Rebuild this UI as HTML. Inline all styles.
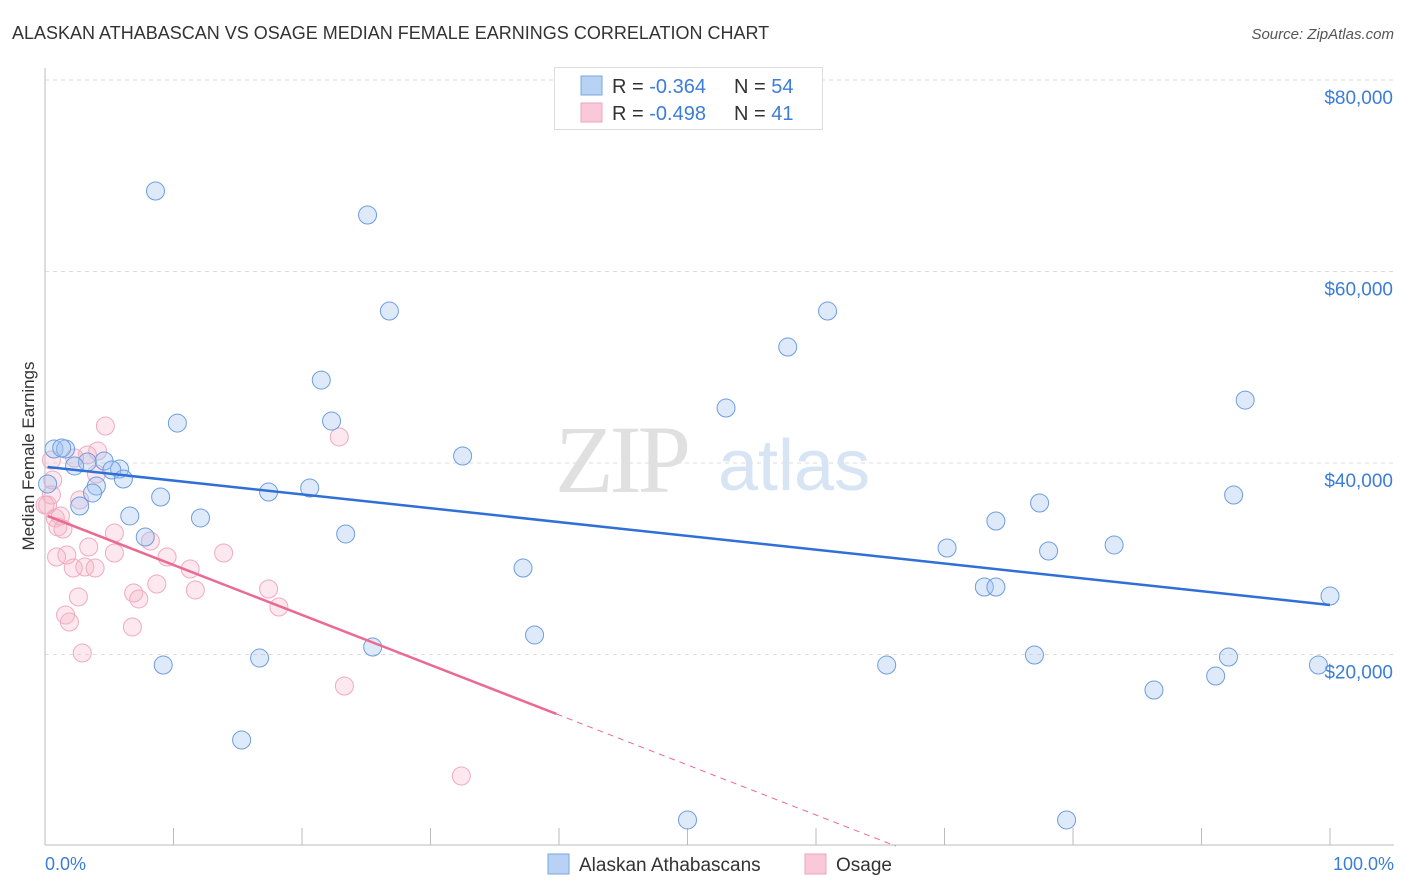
<!DOCTYPE html>
<html><head><meta charset="utf-8"><style>
body{margin:0;background:#fff;font-family:"Liberation Sans",sans-serif;}
svg{display:block}
</style></head><body>
<svg id="chart" width="1406" height="892" xmlns="http://www.w3.org/2000/svg">
<text x="12" y="39" font-size="18" fill="#333">ALASKAN ATHABASCAN VS OSAGE MEDIAN FEMALE EARNINGS CORRELATION CHART</text>
<text x="1394" y="39" font-size="15" fill="#555" font-style="italic" text-anchor="end">Source: ZipAtlas.com</text>
<g id="grid"></g>
<g><text x="555" y="492" font-size="96" fill="#e0e0e0" font-family="Liberation Serif,serif" letter-spacing="-4">ZIP</text><text x="718" y="490" font-size="72" fill="#d6e4f4">atlas</text></g>
<line x1="45" y1="68" x2="45" y2="845" stroke="#bbb"/>
<line x1="45" y1="845" x2="1394" y2="845" stroke="#bbb"/>
<g id="xticks"></g>
<text x="45" y="870" font-size="18" fill="#3b7dd8">0.0%</text>
<text x="1394" y="870" font-size="18" fill="#3b7dd8" text-anchor="end">100.0%</text>
<text transform="translate(34,456) rotate(-90)" font-size="17" fill="#333" text-anchor="middle">Median Female Earnings</text>
<g id="marks"></g>
<g>
<rect x="554.5" y="67.5" width="268" height="62" fill="#fff" stroke="#ddd"/>
<rect x="581" y="76" width="21" height="19" fill="#b8d2f3" stroke="#7aa6e0"/>
<rect x="581" y="103" width="21" height="19" fill="#fac8d8" stroke="#eea5bd"/>
<text x="612" y="93" font-size="20" fill="#333">R = <tspan fill="#3b7dd8">-0.364</tspan></text>
<text x="734" y="93" font-size="20" fill="#333">N = <tspan fill="#3b7dd8">54</tspan></text>
<text x="612" y="120" font-size="20" fill="#333">R = <tspan fill="#3b7dd8">-0.498</tspan></text>
<text x="734" y="120" font-size="20" fill="#333">N = <tspan fill="#3b7dd8"> 41</tspan></text>
</g>
<g>
<rect x="548" y="854" width="21" height="20" fill="#b8d2f3" stroke="#7aa6e0"/>
<text x="579" y="871" font-size="19" fill="#333">Alaskan Athabascans</text>
<rect x="805" y="854" width="21" height="20" fill="#fac8d8" stroke="#eea5bd"/>
<text x="836" y="871" font-size="19" fill="#333">Osage</text>
</g>
</svg>
<script>
const yTicks=[20000,40000,60000,80000];
const yTickLabels=["$20,000","$40,000","$60,000","$80,000"];
const blueX=[8.6,25.1,26.8,60.9,57.8,21.5,10.3,22.3,53.0,93.4,0.7,1.6,1.3,3.3,2.3,4.6,5.8,5.2,6.1,0.2,4.0,3.7,2.7,9.0,17.4,20.6,32.5,92.5,77.4,74.0,6.6,12.1,23.4,7.8,70.2,78.1,83.2,37.2,73.1,74.0,100.0,38.1,25.5,9.2,16.7,65.5,77.0,92.1,99.1,91.1,86.3,15.3,50.0,79.5];
const blueY=[68410,65900,55870,55870,52110,48660,44170,44380,45740,46570,41460,41460,41570,40110,39690,40210,39370,39270,38330,37810,37600,36870,35510,36450,36970,37390,40730,36660,35820,33940,34470,34260,32590,32270,31120,30810,31440,29030,27050,27050,26110,22040,20780,18900,19630,18900,19950,19740,18900,17750,16290,11070,2720,2720];
const pinkX=[4.7,22.9,4.1,3.3,2.3,0.5,0.6,2.7,0.2,0.8,1.2,5.4,8.2,3.4,1.0,1.4,1.7,0.9,5.4,9.5,13.9,2.2,3.1,3.9,11.3,8.7,17.4,6.9,7.3,11.7,2.6,18.2,1.6,1.9,6.8,2.9,23.3,32.4,0.5,0.0,4.0];
const pinkY=[43860,42720,41250,40840,40520,40310,38220,36140,35610,34260,34470,32690,31850,31230,33320,33110,30390,30180,30600,30180,30600,29030,29140,29030,28930,27360,26840,26420,25800,26740,26010,24960,24130,23390,22870,20160,16710,7310,36660,35610,38850];
const blueTrend=[[0.2,39580],[100,25170]];
const pinkTrend=[[0.2,34470],[39.8,13790]];
const pinkDash=[[39.8,13790],[66.2,0]];
const NS="http://www.w3.org/2000/svg";
const X0=45,X1=1330,Y0=846,PPV=191.5/20000;
function sx(v){return X0+(X1-X0)*v/100;}
function sy(v){return Y0-v*PPV;}
function mk(t,a,p){const e=document.createElementNS(NS,t);for(const k in a)e.setAttribute(k,a[k]);p.appendChild(e);return e;}
const grid=document.getElementById('grid');
yTicks.forEach((t,i)=>{
 const l=mk('line',{x1:45,x2:1394,y1:sy(t),y2:sy(t),stroke:'#ddd','stroke-dasharray':'4,4'},grid);
 
 
 const tx=mk('text',{x:1393,y:sy(t)+24,'font-size':19,fill:'#3b7dd8','text-anchor':'end'},grid);
 tx.textContent=yTickLabels[i];
 
 
});
const xt=document.getElementById('xticks');
for(let i=0;i<=10;i++){
 const l=mk('line',{x1:sx(i*10),x2:sx(i*10),y1:828,y2:845,stroke:'#bbb'},xt);
 
 
}
const marks=document.getElementById('marks');
function dots(xs,ys,fill,stroke,name){
 const g=mk('g',{},marks);
 
 
 xs.forEach((x,i)=>{
  const c=mk('circle',{cx:sx(x),cy:sy(ys[i]),r:9,fill:fill,stroke:stroke,'stroke-width':1},g);
  
  
 });
}
dots(pinkX,pinkY,'rgba(246,178,199,0.3)','#f0aac0','osage');
dots(blueX,blueY,'rgba(160,196,240,0.35)','#6d9de0','athabascan');
function tl(p,stroke,w,dash,name){
 const l=mk('line',{x1:sx(p[0][0]),y1:sy(p[0][1]),x2:sx(p[1][0]),y2:sy(p[1][1]),stroke:stroke,'stroke-width':w},marks);
 if(dash)l.setAttribute('stroke-dasharray',dash);
 
 
}
tl(blueTrend,'#2f6fd6',2.5,null,'athabascan-trendline');
tl(pinkTrend,'#ea6a93',2.5,null,'osage-trendline');
tl(pinkDash,'#ea6a93',1,'6,5','osage-trendline-extension');
</script>
</body></html>
